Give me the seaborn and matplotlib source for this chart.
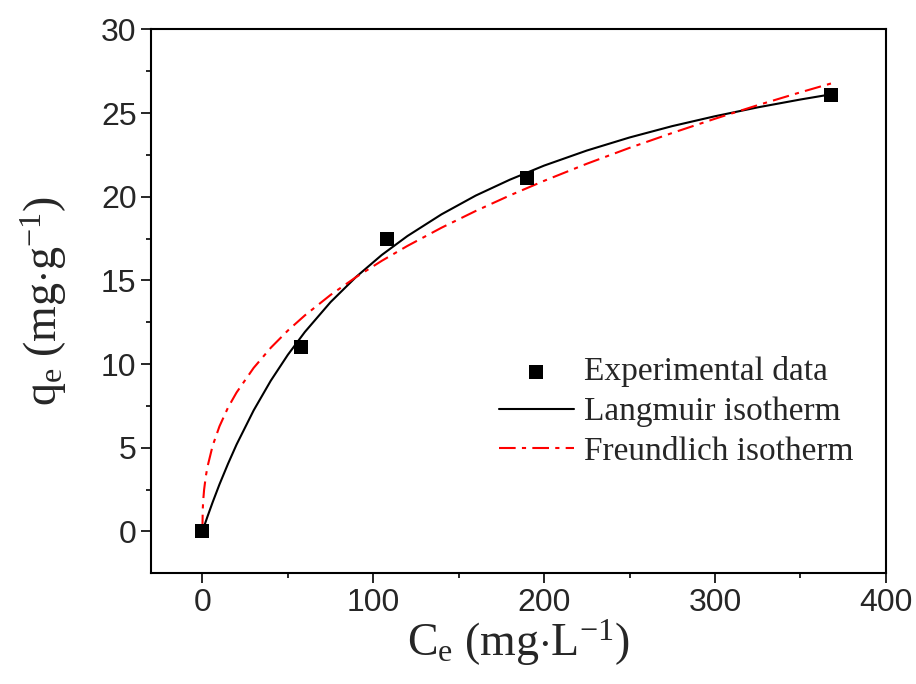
import matplotlib
matplotlib.use('Agg')
import matplotlib.pyplot as plt
import numpy as np
import pandas as pd
import seaborn as sns

# experimental points
ce_exp = [0, 58, 108, 190, 368]
qe_exp = [0, 11.0, 17.5, 21.1, 26.1]

# Langmuir fit curve
ce_lang = [0, 1, 3, 6, 10, 15, 20, 30, 40, 50, 60, 75, 90, 105, 120, 140,
           160, 180, 200, 225, 250, 275, 300, 325, 350, 368]
qe_lang = [0, 0.30, 0.89, 1.74, 2.81, 4.04, 5.19, 7.23, 9.00, 10.55, 11.92,
           13.70, 15.21, 16.52, 17.65, 18.95, 20.07, 21.02, 21.86, 22.76,
           23.54, 24.22, 24.81, 25.34, 25.81, 26.12]

# Freundlich fit curve
ce_freu = [0, 0.2, 0.5, 1, 2, 3, 6, 10, 15, 20, 30, 40, 50, 60, 75, 90, 105,
           120, 140, 160, 180, 200, 225, 250, 275, 300, 325, 350, 368]
qe_freu = [0, 1.30, 1.88, 2.49, 3.29, 3.87, 5.12, 6.28, 7.40, 8.30, 9.77,
           10.97, 12.00, 12.91, 14.13, 15.20, 16.17, 17.06, 18.15, 19.15,
           20.08, 20.95, 21.97, 22.92, 23.81, 24.66, 25.47, 26.24, 26.77]

sns.set_style('ticks')
plt.rcParams['font.family'] = ['Liberation Sans', 'DejaVu Sans']
plt.rcParams['mathtext.fontset'] = 'custom'
plt.rcParams['mathtext.rm'] = 'Liberation Serif'
plt.rcParams['mathtext.it'] = 'Liberation Serif:italic'

fig = plt.figure(figsize=(9.16, 6.84), dpi=100)
ax = fig.add_axes([0.165, 0.162, 0.802, 0.795])

sns.lineplot(x=ce_lang, y=qe_lang, ax=ax, color='black', lw=1.5,
             label='Langmuir isotherm', sort=False)
sns.lineplot(x=ce_freu, y=qe_freu, ax=ax, color='red', lw=1.5,
             label='Freundlich isotherm', sort=False)
ax.lines[-1].set_linestyle((0, (8, 3, 2, 3)))
sns.scatterplot(x=ce_exp, y=qe_exp, ax=ax, marker='s', s=110, color='black',
                edgecolor='black', linewidth=0, label='Experimental data',
                zorder=5)

ax.set_xlim(-30, 400)
ax.set_ylim(-2.5, 30)
ax.set_xticks([0, 100, 200, 300, 400])
ax.set_xticks([50, 150, 250, 350], minor=True)
ax.set_yticks([0, 5, 10, 15, 20, 25, 30])
ax.set_yticks(np.arange(2.5, 30, 5), minor=True)
ax.tick_params(which='major', direction='out', length=7, width=1.4,
               labelsize=23, top=False, right=False)
ax.tick_params(which='minor', direction='out', length=3.5, width=1.4)
for sp in ax.spines.values():
    sp.set_linewidth(1.5)
    sp.set_color('black')
    sp.set_visible(True)

ax.set_xlabel(r'$\mathrm{C_e\ (mg{\cdot}L^{-1})}$', fontsize=33, labelpad=0)
ax.set_ylabel(r'$\mathrm{q_e\ (mg{\cdot}g^{-1})}$', fontsize=33, labelpad=23)

h, l = ax.get_legend_handles_labels()
order = [2, 0, 1]
ax.legend([h[i] for i in order], [l[i] for i in order], loc='center left',
          bbox_to_anchor=(0.473, 0.297), frameon=False,
          prop={'family': 'Liberation Serif', 'size': 24},
          handlelength=2.25, handletextpad=0.3, labelspacing=0.28,
          borderpad=0, borderaxespad=0)

fig.savefig('out.png', dpi=100)
